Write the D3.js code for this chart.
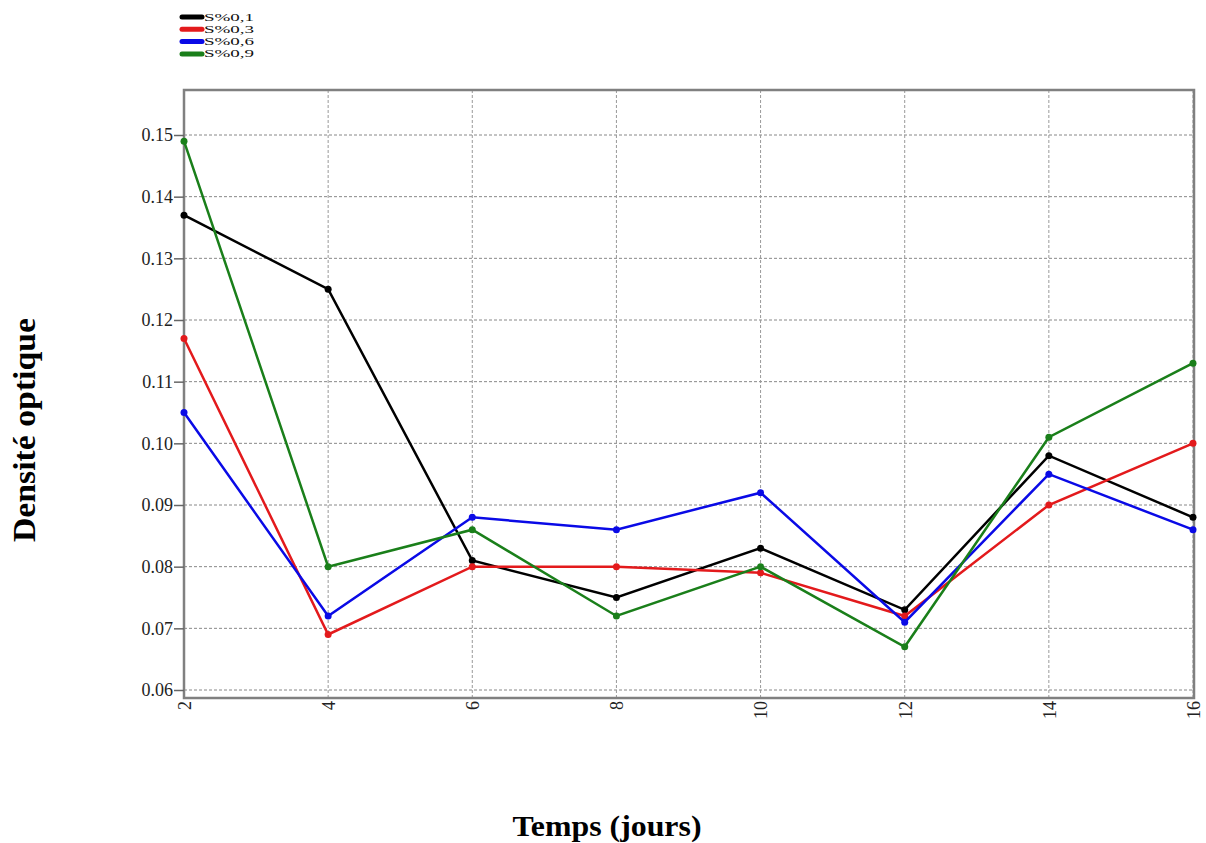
<!DOCTYPE html>
<html><head><meta charset="utf-8">
<script src="https://cdn.jsdelivr.net/npm/d3@7"></script>
<style>body{margin:0;background:#fff}svg{display:block}text{font-family:"Liberation Serif","Times New Roman",serif}</style>
</head><body>
<script>
const days = [2,4,6,8,10,12,14,16];
const seriesNames = ["S%0,1","S%0,3","S%0,6","S%0,9"];
const colors = ["#000000","#e31a1c","#0a0ae6","#1a7f1a"];
const s01 = [0.137,0.125,0.081,0.075,0.083,0.073,0.098,0.088];
const s03 = [0.117,0.069,0.080,0.080,0.079,0.072,0.090,0.100];
const s06 = [0.105,0.072,0.088,0.086,0.092,0.071,0.095,0.086];
const s09 = [0.149,0.080,0.086,0.072,0.080,0.067,0.101,0.113];
const yTicks = [0.06,0.07,0.08,0.09,0.10,0.11,0.12,0.13,0.14,0.15];
const allSeries = [s01,s03,s06,s09];

const W=1206,H=843;
const svg=d3.select("body").append("svg").attr("width",W).attr("height",H);
const L=184,R=1194,T=90,B=698;
const x=d3.scaleLinear().domain([2,16]).range([L,1193]);
const y=d3.scaleLinear().domain([0.06,0.15]).range([690,135]);

// grid
const g=svg.append("g");
g.selectAll("line.h").data(yTicks).join("line")
 .attr("x1",L).attr("x2",R).attr("y1",d=>y(d)).attr("y2",d=>y(d))
 .attr("stroke","#888").attr("stroke-width",1).attr("stroke-dasharray","3,2");
g.selectAll("line.v").data(days).join("line")
 .attr("x1",d=>x(d)).attr("x2",d=>x(d)).attr("y1",T).attr("y2",B)
 .attr("stroke","#999").attr("stroke-width",1).attr("stroke-dasharray","3,2");

// frame
svg.append("rect").attr("x",L).attr("y",T).attr("width",R-L).attr("height",B-T)
 .attr("fill","none").attr("stroke","#808080").attr("stroke-width",2.5);

// y axis
const ya=svg.append("g").attr("transform",`translate(${L},0)`)
 .call(d3.axisLeft(y).tickValues(yTicks).tickFormat(d3.format(".2f")).tickSize(10).tickPadding(1));
ya.select(".domain").remove();
ya.selectAll("line").attr("stroke","#666").attr("stroke-width",1.5);
ya.selectAll("text").attr("font-size",18).attr("fill","#222").style("font-family","Liberation Serif");

// x axis
const xa=svg.append("g").attr("transform",`translate(0,${B})`)
 .call(d3.axisBottom(x).tickValues(days).tickFormat(d3.format("d")).tickSize(0));
xa.select(".domain").remove();
xa.selectAll("text").attr("font-size",18).attr("fill","#222").style("font-family","Liberation Serif")
 .attr("transform","rotate(-90)").attr("text-anchor","end").attr("x",-3).attr("y",0).attr("dy","0.35em");

// lines
const line=d3.line().x((d,i)=>x(days[i])).y(d=>y(d));
allSeries.forEach((s,k)=>{
  svg.append("path").datum(s).attr("d",line).attr("fill","none")
   .attr("stroke",colors[k]).attr("stroke-width",2.5);
  svg.append("g").selectAll("circle").data(s).join("circle")
   .attr("cx",(d,i)=>x(days[i])).attr("cy",d=>y(d)).attr("r",3.5).attr("fill",colors[k]);
});

// legend
const step=12.3;
const lg=svg.append("g").attr("transform","translate(180,17)");
seriesNames.forEach((n,k)=>{
  lg.append("line").attr("x1",2).attr("x2",22).attr("y1",k*step).attr("y2",k*step)
   .attr("stroke",colors[k]).attr("stroke-width",5).attr("stroke-linecap","round");
  lg.append("text").attr("transform",`translate(24,${k*step}) scale(1,0.56)`)
   .attr("font-size",19).attr("dy","0.33em").attr("fill","#111").text(n);
});

// axis titles
svg.append("text").attr("transform","translate(35,430) rotate(-90)").attr("text-anchor","middle")
 .attr("font-size",32).attr("font-weight","bold").attr("textLength",224).attr("lengthAdjust","spacingAndGlyphs")
 .text("Densité optique");
svg.append("text").attr("x",607).attr("y",836).attr("text-anchor","middle")
 .attr("font-size",29).attr("font-weight","bold").attr("textLength",189).attr("lengthAdjust","spacingAndGlyphs")
 .text("Temps (jours)");
</script>
</body></html>
